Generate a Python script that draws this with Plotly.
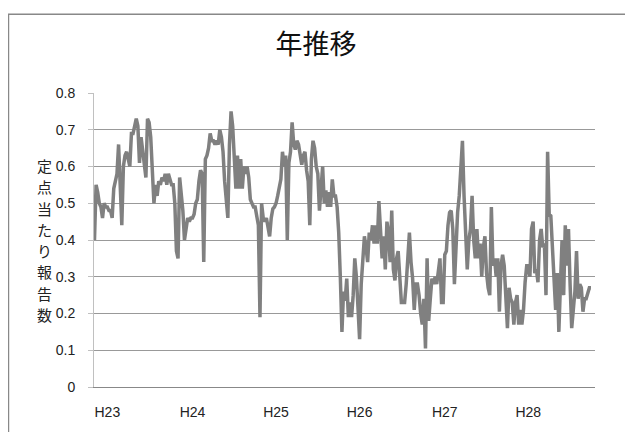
import plotly.graph_objects as go

# weekly values, H23 .. H28 (定点当たり報告数)
reports = [
    0.40, 0.55, 0.53, 0.50, 0.49, 0.46, 0.50, 0.49, 0.49, 0.48,
    0.48, 0.46, 0.54, 0.56, 0.58, 0.66, 0.55, 0.44, 0.60, 0.63,
    0.64, 0.62, 0.60, 0.69, 0.69, 0.71, 0.73, 0.71, 0.61, 0.68,
    0.64, 0.60, 0.57, 0.73, 0.72, 0.68, 0.60, 0.50, 0.55, 0.52,
    0.56, 0.55, 0.57, 0.56, 0.58, 0.55, 0.58, 0.56, 0.55, 0.55,
    0.50, 0.37, 0.35, 0.57, 0.53, 0.48, 0.40, 0.44, 0.46, 0.45,
    0.46, 0.46, 0.47, 0.50, 0.51, 0.56, 0.59, 0.58, 0.34, 0.62,
    0.63, 0.65, 0.69, 0.67, 0.67, 0.66, 0.67, 0.66, 0.70, 0.68,
    0.64, 0.56, 0.50, 0.46, 0.66, 0.75, 0.71, 0.64, 0.54, 0.63,
    0.54, 0.62, 0.54, 0.60, 0.58, 0.60, 0.57, 0.51, 0.50, 0.49,
    0.49, 0.46, 0.44, 0.19, 0.50, 0.46, 0.45, 0.46, 0.44, 0.41,
    0.46, 0.485, 0.49, 0.50, 0.52, 0.54, 0.565, 0.64, 0.60, 0.63,
    0.40, 0.61, 0.64, 0.72, 0.66, 0.646, 0.67, 0.66, 0.63, 0.605,
    0.63, 0.64, 0.59, 0.56, 0.44, 0.62, 0.67, 0.65, 0.60, 0.58,
    0.48, 0.55, 0.60, 0.50, 0.535, 0.49, 0.53, 0.49, 0.565, 0.52,
    0.52, 0.49, 0.42, 0.30, 0.15, 0.26, 0.235, 0.295, 0.19, 0.23,
    0.19, 0.25, 0.35, 0.30, 0.22, 0.13, 0.28, 0.36, 0.41, 0.38,
    0.34, 0.42, 0.40, 0.44, 0.39, 0.44, 0.39, 0.506, 0.44, 0.35,
    0.41, 0.32, 0.45, 0.42, 0.34, 0.48, 0.32, 0.29, 0.35, 0.37,
    0.30, 0.23, 0.23, 0.23, 0.28, 0.35, 0.42, 0.34, 0.295, 0.21,
    0.28, 0.28, 0.25, 0.20, 0.17, 0.24, 0.105, 0.35, 0.18, 0.24,
    0.295, 0.28, 0.30, 0.28, 0.31, 0.35, 0.23, 0.23, 0.36, 0.37,
    0.44, 0.475, 0.48, 0.43, 0.28, 0.40, 0.475, 0.52, 0.60, 0.67,
    0.52, 0.40, 0.32, 0.40, 0.43, 0.52, 0.40, 0.35, 0.43, 0.35,
    0.39, 0.30, 0.38, 0.41, 0.31, 0.27, 0.25, 0.49, 0.33, 0.35,
    0.30, 0.35, 0.205, 0.33, 0.36, 0.33, 0.25, 0.16, 0.27, 0.24,
    0.23, 0.17, 0.23, 0.25, 0.17, 0.21, 0.17, 0.21, 0.285, 0.33,
    0.33, 0.30, 0.43, 0.45, 0.31, 0.32, 0.285, 0.40, 0.43, 0.38,
    0.39, 0.25, 0.64, 0.47, 0.466, 0.38, 0.31, 0.21, 0.31, 0.15,
    0.28, 0.40, 0.25, 0.44, 0.33, 0.43, 0.28, 0.16, 0.21, 0.26,
    0.37, 0.24, 0.28, 0.27, 0.205, 0.24, 0.24, 0.26, 0.27, 0.27,
]
weeks = list(range(len(reports)))

year_labels = ["H23", "H24", "H25", "H26", "H27", "H28"]
year_ticks = [8, 61, 113, 165, 218, 270]

y_label = "定点当たり報告数"

LATIN = "Liberation Sans Narrow, Liberation Sans, Arial, sans-serif"
CJK = "Noto Sans CJK JP, sans-serif"

# page body keeps its default 8px margin, so the figure is 8px smaller
W, H = 625, 424
PLOT_H = 296  # plot area height in px

fig = go.Figure()
fig.add_trace(go.Scatter(
    x=weeks, y=reports,
    mode="lines",
    line=dict(color="#808080", width=3.5),
    showlegend=False,
))

fig.update_xaxes(
    range=[-0.3, 311.5],
    tickvals=year_ticks, ticktext=year_labels,
    showgrid=False, zeroline=False,
    showline=True, linecolor="#888888", linewidth=1,
    ticks="", ticklabelstandoff=12,
    tickfont=dict(family=LATIN, size=14, color="#222222"),
)
fig.update_yaxes(
    range=[0, 0.8], dtick=0.1, tickformat="~g",
    showgrid=True, gridcolor="#999999", gridwidth=1,
    zeroline=False,
    showline=True, linecolor="#c0c0c0", linewidth=1,
    ticks="outside", ticklen=5, tickcolor="#c0c0c0",
    ticklabelstandoff=10,
    tickfont=dict(family=LATIN, size=14, color="#222222"),
)

# chart frame (runs off the right and bottom edges like the original)
fig.add_shape(type="rect", xref="paper", yref="paper",
              x0=-0.1707, x1=1.2, y0=-0.3, y1=1.268,
              line=dict(color="#888888", width=1.5), layer="below")

# vertical (tategaki) axis title, one character per annotation
step = 21.4
top = 0.5 + (len(y_label) - 1) * step / 2 / PLOT_H
for i, ch in enumerate(y_label):
    fig.add_annotation(text=ch, xref="paper", yref="paper",
                       x=-0.098, y=top - i * step / PLOT_H,
                       xanchor="center", yanchor="middle",
                       showarrow=False,
                       font=dict(family=CJK, size=15, color="#222222"))

fig.update_layout(
    width=W, height=H,
    margin=dict(l=86, r=38, t=85, b=43),
    title=dict(text="年推移", x=(316 - 8) / W, xref="container",
               xanchor="center",
               y=1 - (45 - 8) / H, yanchor="middle",
               font=dict(family=CJK, size=27, color="#111111")),
    paper_bgcolor="white", plot_bgcolor="white",
)

fig.write_html("out.html")
